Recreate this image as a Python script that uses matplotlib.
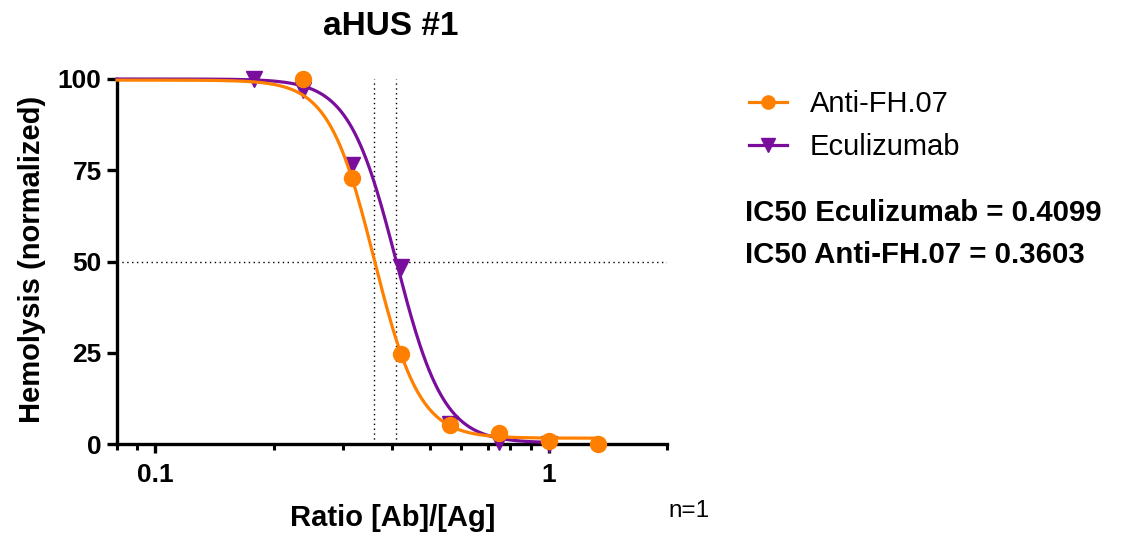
import numpy as np
import matplotlib
matplotlib.use("Agg")
import matplotlib.pyplot as plt
from matplotlib.ticker import FixedLocator, NullFormatter

plt.rcParams['font.family'] = ['Liberation Sans', 'DejaVu Sans']

# ---- data ----
ratio_fh = [0.2373, 0.3164, 0.4219, 0.5625, 0.75, 1.0, 1.3333]
hemo_fh = [100.0, 72.8, 24.7, 5.2, 3.0, 0.9, 0.0]
ratio_ecu = [0.1780, 0.2373, 0.3164, 0.4219, 0.5625, 0.75, 1.0]
hemo_ecu = [100.0, 97.0, 76.5, 48.5, 5.5, 0.6, 0.0]

# fitted 4PL parameters (top, bottom, IC50, hill)
fit_fh = dict(top=99.7, bottom=1.6, ic50=0.3603, hill=7.5)
fit_ecu = dict(top=100.0, bottom=0.3, ic50=0.4099, hill=7.2)

series_names = ["Anti-FH.07", "Eculizumab"]
ytick_vals = [0, 25, 50, 75, 100]
xtick_major = [0.1, 1]
xtick_major_labels = ['0.1', '1']
xtick_minor = [0.08, 0.09, 0.2, 0.3, 0.4, 0.5, 0.6, 0.7, 0.8, 0.9, 2.0]

c_orange = "#FF8000"
c_purple = "#7A0E9C"

def logistic(x, top, bottom, ic50, hill):
    return bottom + (top - bottom) / (1.0 + (x / ic50) ** hill)

W, H = 1124, 534
fig = plt.figure(figsize=(W / 100, H / 100), dpi=100)
ax = fig.add_axes([117 / W, 1 - 444 / H, 550 / W, 365 / H])

xlo, xhi = 0.08, 2.0
ax.set_xscale('log')
ax.set_xlim(xlo, xhi)
ax.set_ylim(0, 100)

# reference dotted lines
ax.axhline(50, color='black', lw=1.0, ls=(0, (1, 2.5)), zorder=1)
for p in (fit_fh, fit_ecu):
    ax.plot([p['ic50'], p['ic50']], [0, 100], color='black', lw=1.0, ls=(0, (1, 2.5)), zorder=1)

# curves and points
xs_e = np.logspace(np.log10(xlo), np.log10(max(ratio_ecu)), 300)
xs_f = np.logspace(np.log10(xlo), np.log10(max(ratio_fh)), 300)
ax.plot(xs_e, logistic(xs_e, **fit_ecu), color=c_purple, lw=2.3, zorder=3, clip_on=False)
ax.plot(ratio_ecu, hemo_ecu, 'v', color=c_purple, ms=11, zorder=4, clip_on=False)
ax.plot(xs_f, logistic(xs_f, **fit_fh), color=c_orange, lw=2.3, zorder=5, clip_on=False)
ax.plot(ratio_fh, hemo_fh, 'o', color=c_orange, ms=11.5, zorder=6, clip_on=False)

# legend
h1, = ax.plot([], [], '-o', color=c_orange, lw=2.3, ms=9.5)
h2, = ax.plot([], [], '-v', color=c_purple, lw=2.3, ms=9.5)
fig.legend([h1, h2], series_names, loc='upper left', bbox_to_anchor=(749 / W, 1 - 90 / H),
           frameon=False, fontsize=21, handlelength=1.3, handletextpad=0.79,
           labelspacing=0.53, borderpad=0, borderaxespad=0)

# spines & ticks
for s in ('top', 'right'):
    ax.spines[s].set_visible(False)
for s in ('left', 'bottom'):
    ax.spines[s].set_linewidth(2.4)

ax.set_yticks(ytick_vals)
ax.tick_params(axis='y', which='major', length=7.5, width=2.4, labelsize=19, pad=3.5)
ax.xaxis.set_major_locator(FixedLocator(xtick_major))
ax.xaxis.set_minor_locator(FixedLocator(xtick_minor))
ax.xaxis.set_minor_formatter(NullFormatter())
ax.set_xticklabels(xtick_major_labels)
ax.tick_params(axis='x', which='major', length=6.5, width=2.4, labelsize=19, pad=7)
ax.tick_params(axis='x', which='minor', length=4, width=2.2)
for lab in ax.get_xticklabels() + ax.get_yticklabels():
    lab.set_fontweight('bold')

# labels and texts
fig.text(393 / W, 1 - 526 / H, 'Ratio [Ab]/[Ag]', fontsize=21, fontweight='bold',
         ha='center', va='baseline')
fig.text(32 / W, 1 - 259 / H, 'Hemolysis (normalized)', fontsize=21, fontweight='bold',
         ha='center', va='center', rotation=90)
fig.text(391 / W, 1 - 35 / H, 'aHUS #1', fontsize=24, fontweight='bold',
         ha='center', va='baseline')

fig.text(745 / W, 1 - 221 / H, 'IC50 Eculizumab = 0.4099', fontsize=21.2, fontweight='bold',
         va='baseline')
fig.text(745 / W, 1 - 263 / H, 'IC50 Anti-FH.07 = 0.3603', fontsize=21.2, fontweight='bold',
         va='baseline')
fig.text(668 / W, 1 - 517 / H, 'n=1', fontsize=17.5, va='baseline')

fig.savefig('out.png', dpi=100)
